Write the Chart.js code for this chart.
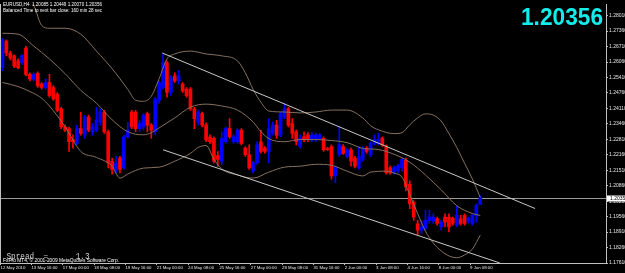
<!DOCTYPE html>
<html>
<head>
<meta charset="utf-8">
<script src="https://cdn.jsdelivr.net/npm/chart.js@4.4.1/dist/chart.umd.min.js"></script>
<style>
  html, body { margin: 0; padding: 0; background: #000; }
  canvas { display: block; }
</style>
</head>
<body>
<canvas id="myChart" width="625" height="273"></canvas>
<script>
const symbolTitle = "EURUSD,H4";
const barTimerText = "Balanced Time to next bar close: 160 min 28 sec";
const brokerText = "FxPro MT4, \u00a9 2001-2009 MetaQuotes Software Corp.";
const spreadValue = "1.3";

// H4 candles, oldest first
const openPrices = [
  1.2582, 1.2694, 1.2644, 1.2632, 1.2611, 1.2603, 1.2665, 1.2554, 1.2534, 1.2558,
  1.2513, 1.2499, 1.2520, 1.2499, 1.2471, 1.2409, 1.2333, 1.2326, 1.2280, 1.2264,
  1.2326, 1.2299, 1.2375, 1.2313, 1.2320, 1.2354, 1.2396, 1.2313, 1.2189, 1.2147,
  1.2202, 1.2161, 1.2292, 1.2396, 1.2396, 1.2326, 1.2333, 1.2389, 1.2341, 1.2313,
  1.2445, 1.2499, 1.2603, 1.2478, 1.2548, 1.2527, 1.2513, 1.2492, 1.2492, 1.2409,
  1.2354, 1.2389, 1.2341, 1.2292, 1.2285, 1.2213, 1.2189, 1.2271, 1.2326, 1.2271,
  1.2271, 1.2320, 1.2244, 1.2216, 1.2147, 1.2182, 1.2271, 1.2244, 1.2230, 1.2306,
  1.2341, 1.2299, 1.2375, 1.2409, 1.2347, 1.2313, 1.2251, 1.2292, 1.2300, 1.2278,
  1.2278, 1.2284, 1.2285, 1.2242, 1.2251, 1.2127, 1.2216, 1.2251, 1.2209, 1.2237,
  1.2202, 1.2161, 1.2196, 1.2244, 1.2216, 1.2264, 1.2264, 1.2285, 1.2251, 1.2161,
  1.2140, 1.2147, 1.2161, 1.2193, 1.2092, 1.2016, 1.1926, 1.1899, 1.1906, 1.1940,
  1.1937, 1.1947, 1.1913, 1.1954, 1.1954, 1.1949, 1.1920, 1.1947, 1.1961, 1.1936,
  1.1927, 1.1961, 1.20085
];
const highPrices = [
  1.2706, 1.2699, 1.2652, 1.2636, 1.2619, 1.2637, 1.2672, 1.2561, 1.2561, 1.2565,
  1.2520, 1.2534, 1.2554, 1.2507, 1.2478, 1.2416, 1.2342, 1.2333, 1.2300, 1.2341,
  1.2396, 1.2382, 1.2383, 1.2347, 1.2416, 1.2409, 1.2403, 1.2320, 1.2202, 1.2209,
  1.2209, 1.2299, 1.2354, 1.2403, 1.2403, 1.2361, 1.2389, 1.2396, 1.2347, 1.2458,
  1.2528, 1.2640, 1.2611, 1.2549, 1.2561, 1.2570, 1.2520, 1.2499, 1.2499, 1.2416,
  1.2404, 1.2396, 1.2350, 1.2300, 1.2292, 1.2230, 1.2313, 1.2333, 1.2368, 1.2300,
  1.2326, 1.2326, 1.2251, 1.2258, 1.2189, 1.2271, 1.2320, 1.2251, 1.2368, 1.2354,
  1.2361, 1.2396, 1.2432, 1.2416, 1.2368, 1.2320, 1.2299, 1.2313, 1.2309, 1.2309,
  1.2306, 1.2306, 1.2292, 1.2247, 1.2258, 1.2168, 1.2333, 1.2259, 1.2244, 1.2244,
  1.2209, 1.2251, 1.2251, 1.2251, 1.2271, 1.2299, 1.2306, 1.2292, 1.2258, 1.2168,
  1.2168, 1.2176, 1.2202, 1.2202, 1.2106, 1.2023, 1.1940, 1.1940, 1.1982, 1.1982,
  1.1968, 1.1954, 1.1940, 1.1968, 1.1968, 1.1954, 1.2002, 1.1961, 1.1968, 1.1954,
  1.1968, 1.2009, 1.20449
];
const lowPrices = [
  1.2570, 1.2632, 1.2615, 1.2582, 1.2578, 1.2596, 1.2548, 1.2527, 1.2528, 1.2499,
  1.2492, 1.2492, 1.2458, 1.2445, 1.2396, 1.2326, 1.2313, 1.2230, 1.2244, 1.2258,
  1.2299, 1.2285, 1.2313, 1.2299, 1.2313, 1.2341, 1.2306, 1.2161, 1.2134, 1.2140,
  1.2140, 1.2154, 1.2285, 1.2326, 1.2313, 1.2313, 1.2320, 1.2313, 1.2285, 1.2300,
  1.2433, 1.2492, 1.2458, 1.2466, 1.2520, 1.2513, 1.2478, 1.2458, 1.2403, 1.2326,
  1.2342, 1.2333, 1.2271, 1.2263, 1.2182, 1.2168, 1.2176, 1.2264, 1.2285, 1.2264,
  1.2264, 1.2258, 1.2209, 1.2154, 1.2140, 1.2175, 1.2223, 1.2223, 1.2182, 1.2299,
  1.2285, 1.2292, 1.2368, 1.2333, 1.2285, 1.2258, 1.2244, 1.2271, 1.2271, 1.2271,
  1.2271, 1.2278, 1.2230, 1.2234, 1.2113, 1.2099, 1.2209, 1.2218, 1.2202, 1.2168,
  1.2161, 1.2154, 1.2189, 1.2223, 1.2209, 1.2258, 1.2258, 1.2251, 1.2134, 1.2134,
  1.2134, 1.2140, 1.2147, 1.2064, 1.1989, 1.1940, 1.1878, 1.1885, 1.1899, 1.1927,
  1.1927, 1.1920, 1.1899, 1.1913, 1.1892, 1.1920, 1.1913, 1.1920, 1.1920, 1.1927,
  1.1920, 1.1933, 1.20070
];
const closePrices = [
  1.2699, 1.2644, 1.2623, 1.2590, 1.2582, 1.2633, 1.2554, 1.2534, 1.2554, 1.2506,
  1.2499, 1.2520, 1.2465, 1.2451, 1.2403, 1.2333, 1.2320, 1.2271, 1.2271, 1.2326,
  1.2306, 1.2375, 1.2320, 1.2333, 1.2363, 1.2396, 1.2313, 1.2182, 1.2154, 1.2182,
  1.2154, 1.2292, 1.2320, 1.2333, 1.2326, 1.2347, 1.2382, 1.2341, 1.2320, 1.2450,
  1.2520, 1.2603, 1.2478, 1.2541, 1.2527, 1.2548, 1.2485, 1.2465, 1.2409, 1.2368,
  1.2396, 1.2341, 1.2278, 1.2271, 1.2189, 1.2197, 1.2285, 1.2326, 1.2292, 1.2292,
  1.2320, 1.2264, 1.2216, 1.2161, 1.2182, 1.2258, 1.2230, 1.2230, 1.2326, 1.2341,
  1.2299, 1.2389, 1.2409, 1.2341, 1.2306, 1.2271, 1.2285, 1.2278, 1.2280, 1.2299,
  1.2299, 1.2300, 1.2237, 1.2238, 1.2127, 1.2164, 1.2258, 1.2222, 1.2237, 1.2189,
  1.2168, 1.2209, 1.2244, 1.2230, 1.2264, 1.2280, 1.2280, 1.2258, 1.2140, 1.2140,
  1.2161, 1.2168, 1.2196, 1.2081, 1.2009, 1.1954, 1.1899, 1.1913, 1.1940, 1.1954,
  1.1953, 1.1927, 1.1933, 1.1933, 1.1913, 1.1928, 1.1961, 1.1927, 1.1927, 1.1949,
  1.1961, 1.2002, 1.20356
];

// Bollinger bands: [bar, price]
const upperBand = [
  [0, 1.2975], [4, 1.2901], [8, 1.2843], [10, 1.2760], [12, 1.2748], [16, 1.2748],
  [20, 1.2723], [24, 1.2652], [28, 1.2578], [32, 1.2491], [34, 1.2445], [36, 1.2441],
  [38, 1.2462], [40, 1.2536], [42, 1.2619], [44, 1.2640], [48, 1.2652], [52, 1.2640],
  [56, 1.2632], [60, 1.2611], [62, 1.2561], [64, 1.2491], [66, 1.2437], [68, 1.2400],
  [72, 1.2396], [76, 1.2392], [80, 1.2396], [84, 1.2404], [88, 1.2404], [92, 1.2371],
  [94, 1.2338], [96, 1.2321], [100, 1.2305], [102, 1.2309], [104, 1.2342], [106, 1.2371],
  [108, 1.2388], [110, 1.2383], [112, 1.2358], [114, 1.2305], [116, 1.2247], [118, 1.2180],
  [120, 1.2114], [122, 1.2036]
];
const middleBand = [
  [0, 1.2727], [4, 1.2723], [8, 1.2673], [12, 1.2619], [16, 1.2557], [20, 1.2487],
  [24, 1.2433], [28, 1.2363], [32, 1.2313], [36, 1.2300], [38, 1.2309], [40, 1.2329],
  [42, 1.2350], [44, 1.2371], [48, 1.2416], [52, 1.2429], [56, 1.2421], [60, 1.2404],
  [64, 1.2354], [66, 1.2313], [68, 1.2284], [72, 1.2271], [76, 1.2280], [80, 1.2280],
  [84, 1.2276], [88, 1.2267], [92, 1.2243], [96, 1.2238], [100, 1.2218], [104, 1.2185],
  [108, 1.2131], [112, 1.2069], [116, 1.2002], [120, 1.1969], [122, 1.1961]
];
const lowerBand = [
  [0, 1.2520], [4, 1.2503], [8, 1.2474], [10, 1.2454], [12, 1.2421], [16, 1.2334],
  [20, 1.2230], [24, 1.2205], [28, 1.2168], [30, 1.2118], [32, 1.2135], [36, 1.2160],
  [40, 1.2164], [44, 1.2189], [48, 1.2222], [50, 1.2247], [52, 1.2255], [54, 1.2197],
  [56, 1.2156], [60, 1.2131], [64, 1.2118], [68, 1.2143], [72, 1.2164], [76, 1.2168],
  [80, 1.2176], [84, 1.2172], [88, 1.2147], [92, 1.2127], [94, 1.2143], [98, 1.2147],
  [100, 1.2139], [102, 1.2122], [104, 1.2048], [106, 1.1969], [108, 1.1895], [110, 1.1845],
  [112, 1.1812], [114, 1.1791], [116, 1.1783], [118, 1.1795], [120, 1.1820], [122, 1.1878]
];

// hand drawn channel
const channelTop = [[40.8, 1.2644], [136, 1.1990]];
const channelBottom = [[41, 1.2237], [127, 1.1761]];

const timeLabels = [
  "12 May 2010", "13 May 16:00", "17 May 00:00", "18 May 08:00", "19 May 16:00",
  "21 May 00:00", "24 May 08:00", "25 May 16:00", "27 May 00:00", "28 May 08:00",
  "31 May 16:00", "2 Jun 00:00", "3 Jun 08:00", "4 Jun 16:00", "8 Jun 00:00", "9 Jun 08:00"
];
const priceLabels = [
  1.17610, 1.18260, 1.18910, 1.19560, 1.20210, 1.20860, 1.21510, 1.22160, 1.22810,
  1.23460, 1.24110, 1.24760, 1.25410, 1.26060, 1.26710, 1.27360, 1.28010
];

document.addEventListener("DOMContentLoaded", function () {
  const bandColor = "#86705f";
  const frameColor = "#c0c0c0";
  const lastIdx = closePrices.length - 1;
  const lastClose = closePrices[lastIdx];

  function candleColor(c) {
    const i = c.dataIndex;
    return closePrices[i] >= openPrices[i] ? "#0000ff" : "#ff0000";
  }

  function toPoints(arr) {
    return arr.map((p) => ({ x: p[0], y: p[1] }));
  }

  function lineSet(points, color, order) {
    return {
      type: "line",
      data: toPoints(points),
      borderColor: color,
      borderWidth: 1,
      pointRadius: 0,
      cubicInterpolationMode: "monotone",
      order: order,
    };
  }

  const overlay = {
    id: "overlay",
    beforeDraw(chart) {
      const ctx = chart.ctx;
      ctx.save();
      ctx.fillStyle = "#000";
      ctx.fillRect(0, 0, chart.width, chart.height);
      ctx.restore();
    },
    beforeDatasetsDraw(chart) {
      const ctx = chart.ctx;
      const area = chart.chartArea;
      const py = Math.round(chart.scales.y.getPixelForValue(lastClose)) + 0.5;
      ctx.save();
      ctx.strokeStyle = "#9a9a9a";
      ctx.lineWidth = 1;
      ctx.beginPath();
      ctx.moveTo(area.left, py);
      ctx.lineTo(area.right, py);
      ctx.stroke();
      ctx.restore();
    },
    afterDraw(chart) {
      const ctx = chart.ctx;
      const area = chart.chartArea;
      const py = Math.round(chart.scales.y.getPixelForValue(lastClose)) + 0.5;
      ctx.save();

      // left frame
      ctx.strokeStyle = frameColor;
      ctx.beginPath();
      ctx.moveTo(0.5, area.top);
      ctx.lineTo(0.5, area.bottom);
      ctx.stroke();

      // price box on the axis
      ctx.fillStyle = "#ffffff";
      ctx.fillRect(area.right + 1, py - 3, 19, 6);
      ctx.fillStyle = "#000000";
      ctx.font = "5px 'Liberation Sans'";
      ctx.textBaseline = "middle";
      ctx.textAlign = "left";
      ctx.fillText(lastClose.toFixed(5), area.right + 4, py);

      // header
      ctx.fillStyle = "#ffffff";
      const ohlc = [openPrices[lastIdx], highPrices[lastIdx], lowPrices[lastIdx], lastClose]
        .map((v) => v.toFixed(5)).join(" ");
      ctx.fillText(symbolTitle + "  " + ohlc, 3, 5, 99);
      ctx.fillText(barTimerText, 3, 10.5, 99);

      // big bid
      ctx.font = "bold 24px 'Liberation Sans'";
      ctx.fillStyle = "#14ecec";
      ctx.textAlign = "right";
      ctx.textBaseline = "alphabetic";
      ctx.fillText(lastClose.toFixed(5), 603, 25, 82);

      // spread and broker line
      ctx.textAlign = "left";
      ctx.font = "9px 'Liberation Mono'";
      ctx.fillStyle = "#d0d0d0";
      ctx.fillText("Spread  =      " + spreadValue, 6.5, 258.5, 83);
      ctx.font = "5px 'Liberation Sans'";
      ctx.fillStyle = "#ffffff";
      ctx.textBaseline = "middle";
      ctx.fillText(brokerText, 3, 260.5, 116);
      ctx.restore();
    },
  };

  const ctx = document.getElementById("myChart").getContext("2d");
  new Chart(ctx, {
    type: "bar",
    data: {
      datasets: [
        lineSet(channelTop, "#c8c8c8", 0),
        lineSet(channelBottom, "#c8c8c8", 0),
        lineSet(upperBand, bandColor, 1),
        lineSet(middleBand, bandColor, 1),
        lineSet(lowerBand, bandColor, 1),
        {
          label: "body",
          data: openPrices.map((o, i) => ({ x: i, y: [o, closePrices[i]] })),
          backgroundColor: candleColor,
          barThickness: 3,
          minBarLength: 1,
          grouped: false,
          order: 2,
        },
        {
          label: "wick",
          data: lowPrices.map((l, i) => ({ x: i, y: [l, highPrices[i]] })),
          backgroundColor: candleColor,
          barThickness: 1,
          grouped: false,
          order: 3,
        },
      ],
    },
    options: {
      responsive: false,
      animation: false,
      layout: { padding: 0 },
      plugins: {
        legend: { display: false },
        tooltip: { enabled: false },
      },
      scales: {
        x: {
          type: "linear",
          offset: false,
          min: -0.51,
          max: 154.1,
          afterBuildTicks: function (scale) {
            scale.ticks = timeLabels.map((t, k) => ({
              value: k === 0 ? -0.5 : 7.4 + (k - 1) * 8,
            }));
          },
          afterFit: function (scale) {
            scale.height = 10;
          },
          ticks: {
            autoSkip: false,
            maxRotation: 0,
            align: "start",
            padding: 0.5,
            color: "#e6e6e6",
            font: { size: 4.3, family: "Liberation Sans" },
            callback: function (value, index) {
              return timeLabels[index];
            },
          },
          grid: { drawOnChartArea: false, tickLength: 2, color: frameColor, offset: false },
          border: { display: true, color: frameColor },
        },
        y: {
          position: "right",
          min: 1.1761,
          max: 1.285,
          afterBuildTicks: function (scale) {
            scale.ticks = priceLabels.map((v) => ({ value: v }));
          },
          afterFit: function (scale) {
            scale.width = 19;
          },
          ticks: {
            color: "#e6e6e6",
            padding: 1,
            font: { size: 5, family: "Liberation Sans" },
            callback: function (value) {
              return value.toFixed(5);
            },
          },
          grid: { drawOnChartArea: false, tickLength: 2, color: frameColor },
          border: { display: true, color: frameColor },
        },
      },
    },
    plugins: [overlay],
  });
});
</script>
</body>
</html>
